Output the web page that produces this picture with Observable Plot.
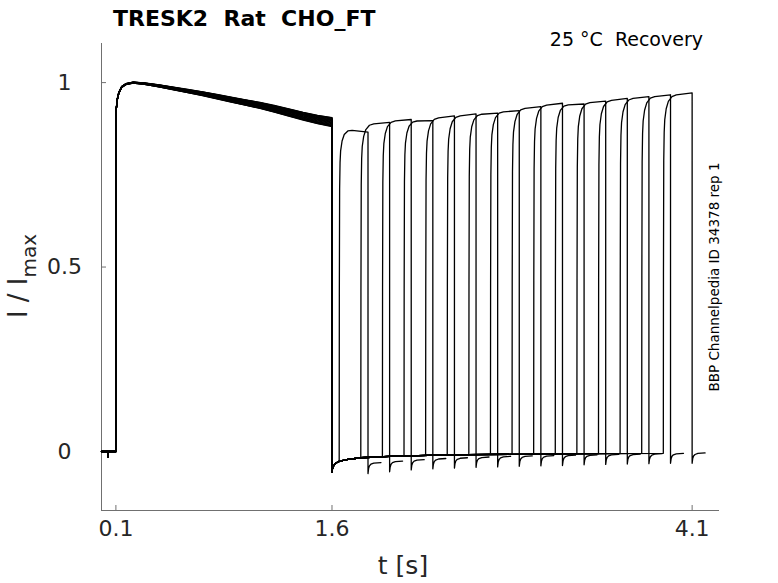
<!DOCTYPE html>
<html>
<head>
<meta charset="utf-8">
<script src="https://cdn.jsdelivr.net/npm/d3@7"></script>
<script src="https://cdn.jsdelivr.net/npm/@observablehq/plot@0.6"></script>
<style>
  html, body { margin: 0; padding: 0; background: #fff; }
  svg text { font-family: "DejaVu Sans", sans-serif; }
</style>
</head>
<body>
<div id="chart"></div>
<script>
// ---- axes / labels ----
const xDomain = [0, 4.29];
const yDomain = [-0.16, 1.106];
const xTicks = [0.1, 1.6, 4.1];
const xTickLabels = ["0.1", "1.6", "4.1"];
const yTicks = [0, 0.5, 1];
const yTickLabels = ["0", "0.5", "1"];
const titleText = "TRESK2  Rat  CHO_FT";
const subtitleText = "25 °C  Recovery";
const sideText = "BBP Channelpedia ID 34378 rep 1";
const xLabelText = "t [s]";

// ---- baseline before the prepulse ----
const preBaseT = [0, 0.044, 0.046, 0.048, 0.1];
const preBaseI = [0, 0, -0.016, 0, 0];

// ---- prepulse (0.1 s to 1.6 s), mean trace ----
const preT = [0.1, 0.1005, 0.103, 0.11, 0.12, 0.14, 0.17, 0.22, 0.3, 0.4, 0.5, 0.6, 0.7, 0.8, 0.9, 1.0, 1.1, 1.2, 1.3, 1.4, 1.5, 1.6];
const preI = [0, 0.85, 0.93, 0.955, 0.972, 0.988, 0.996, 1.0, 0.997, 0.991, 0.984, 0.977, 0.97, 0.962, 0.954, 0.946, 0.938, 0.929, 0.919, 0.909, 0.9, 0.893];
// per-sweep spread of the prepulse at 1.6 s (band thickness)
const preDev = [0.012, -0.004, 0.008, -0.010, 0.002, 0.010, -0.006, 0.004, -0.012, 0.006, -0.002, 0.011, -0.008, 0.0, -0.011, 0.005];

// ---- interpulse baseline after 1.6 s ----
const postT = [1.6, 1.603, 1.61, 1.625, 1.65, 1.7, 1.8, 2.0, 2.4, 3.0, 3.5, 3.9];
const postI = [-0.056, -0.047, -0.04, -0.032, -0.027, -0.022, -0.017, -0.013, -0.009, -0.007, -0.006, -0.005];

// ---- recovery test pulses ----
const recStart = [1.65, 1.80, 1.95, 2.10, 2.25, 2.40, 2.55, 2.70, 2.85, 3.00, 3.15, 3.30, 3.45, 3.60, 3.75, 3.90];
const recEnd   = [1.85, 2.00, 2.15, 2.30, 2.45, 2.60, 2.75, 2.90, 3.05, 3.20, 3.35, 3.50, 3.65, 3.80, 3.95, 4.10];
const recLevelStart = [0.874, 0.885, 0.893, 0.895, 0.900, 0.906, 0.912, 0.918, 0.926, 0.935, 0.938, 0.942, 0.948, 0.953, 0.958, 0.962];
const recLevelEnd   = [0.866, 0.892, 0.900, 0.897, 0.910, 0.915, 0.917, 0.924, 0.935, 0.944, 0.942, 0.950, 0.957, 0.962, 0.967, 0.972];
// rise shape after each step (time after step, fraction of plateau)
const riseDt   = [0, 0.001, 0.003, 0.006, 0.01, 0.02, 0.035, 0.06, 0.09];
const riseFrac = [0, 0.5, 0.82, 0.9, 0.935, 0.965, 0.985, 0.997, 1.0];

// ---- tail currents after each test pulse ----
const tailStart = [-0.060, -0.055, -0.050, -0.047, -0.045, -0.043, -0.042, -0.040, -0.039, -0.038, -0.036, -0.035, -0.034, -0.033, -0.032, -0.032];
const tailEnd   = [-0.030, -0.026, -0.022, -0.019, -0.017, -0.015, -0.013, -0.012, -0.011, -0.010, -0.009, -0.008, -0.007, -0.006, -0.005, -0.004];
const tailDt   = [0, 0.004, 0.01, 0.02, 0.04, 0.09];
const tailFrac = [0, 0.45, 0.7, 0.85, 0.95, 1];

// ---- build the sweep table from the arrays above ----
const postAt = d3.scaleLinear().domain(postT).range(postI).clamp(true);
const traces = [];
recStart.forEach((s, k) => {
  const push = (t, I) => traces.push({sweep: k, t, I});
  preBaseT.forEach((t, i) => push(t, preBaseI[i]));
  preT.forEach((t, i) => {
    const w = t <= 0.2 ? 0.1 : 0.1 + 0.9 * (t - 0.2) / 1.4;
    push(t, preI[i] + (i === 0 ? 0 : preDev[k] * w));
  });
  postT.forEach((t, i) => { if (t < s) push(t, postI[i]); });
  const b = postAt(s);
  const e = recEnd[k];
  const level = d3.scaleLinear().domain([s, e]).range([recLevelStart[k], recLevelEnd[k]]);
  riseDt.forEach((dt, i) => {
    const t = s + dt;
    push(t, b + (level(t) - b) * riseFrac[i]);
  });
  push(e, recLevelEnd[k]);
  tailDt.forEach((dt, i) => push(e + dt, tailStart[k] + (tailEnd[k] - tailStart[k]) * tailFrac[i]));
});

const axisColor = "#707070";
const labelColor = "#262626";

const svg = Plot.plot({
  width: 778,
  height: 583,
  marginLeft: 101,
  marginRight: 59,
  marginTop: 43,
  marginBottom: 73,
  style: {fontFamily: "DejaVu Sans", background: "#fff"},
  x: {domain: xDomain, axis: null},
  y: {domain: yDomain, axis: null},
  marks: [
    Plot.ruleX([xDomain[0]], {stroke: axisColor, strokeWidth: 1}),
    Plot.ruleY([yDomain[0]], {stroke: axisColor, strokeWidth: 1}),
    Plot.tickX(xTicks, {x: d => d, insetTop: 462, stroke: axisColor}),
    Plot.tickY(yTicks, {y: d => d, insetRight: 613, stroke: axisColor}),
    Plot.text(xTicks, {x: d => d, text: (d, i) => xTickLabels[i], frameAnchor: "bottom", dy: 25, fontSize: 22, fill: labelColor}),
    Plot.text(yTicks, {y: d => d, text: (d, i) => yTickLabels[i], frameAnchor: "left", dx: -37, textAnchor: "middle", fontSize: 22, fill: labelColor}),
    Plot.line(traces, {x: "t", y: "I", z: "sweep", stroke: "black", strokeWidth: 1.3, curve: "linear"})
  ]
});

const s = d3.select(svg);
s.append("text").attr("x", 113).attr("y", 26)
  .attr("font-size", 22).attr("font-weight", "bold").attr("fill", "#000")
  .attr("text-anchor", "start")
  .style("white-space", "pre")
  .text(titleText);
s.append("text").attr("x", 703).attr("y", 46)
  .attr("font-size", 19).attr("text-anchor", "end").attr("fill", "#000")
  .style("white-space", "pre")
  .text(subtitleText);
s.append("text").attr("transform", "translate(719,277) rotate(-90)")
  .attr("font-size", 13.5).attr("text-anchor", "middle").attr("fill", "#000")
  .text(sideText);
s.append("text").attr("x", 403).attr("y", 574)
  .attr("font-size", 25).attr("text-anchor", "middle").attr("fill", labelColor)
  .text(xLabelText);
const yl = s.append("text").attr("transform", "translate(27,276) rotate(-90)")
  .attr("font-size", 26).attr("text-anchor", "middle").attr("fill", labelColor)
  .style("white-space", "pre");
yl.append("tspan").text("I / I");
yl.append("tspan").attr("font-size", 20).attr("dy", 9).text("max");

document.getElementById("chart").appendChild(svg);
</script>
</body>
</html>
